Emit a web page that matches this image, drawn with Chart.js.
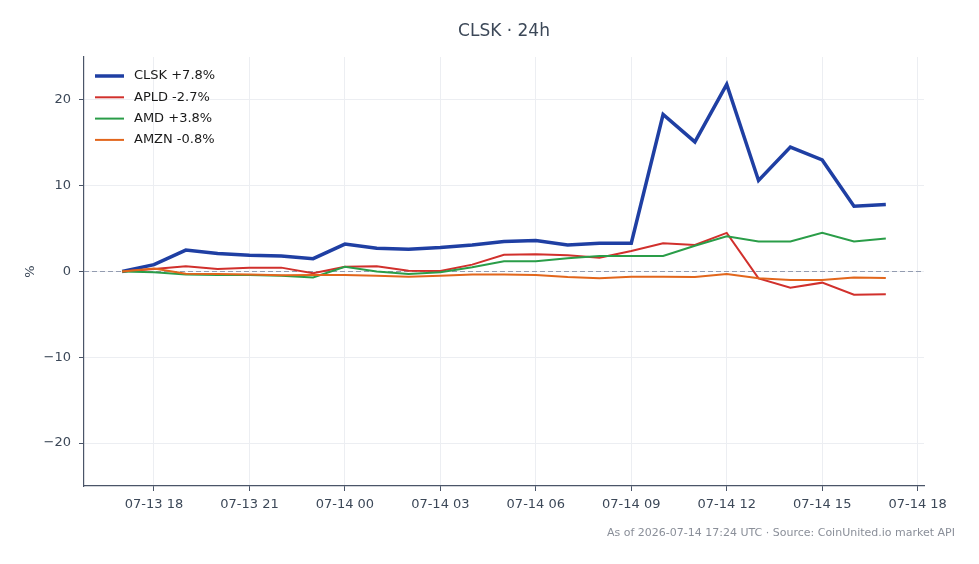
<!DOCTYPE html>
<html>
<head>
<meta charset="utf-8">
<script src="https://cdn.jsdelivr.net/npm/chart.js@4/dist/chart.umd.min.js"></script>
<style>
  html, body { margin: 0; padding: 0; background: #fff; }
  #wrap { position: relative; width: 979px; height: 564px; font-family: "DejaVu Sans", sans-serif; }
  #chart { position: absolute; left: 0; top: 0; }
  .title { position: absolute; left: 84px; width: 840px; top: 20px; text-align: center; font-size: 17px; color: #3c4858; }
  .note { position: absolute; right: 24px; top: 526px; font-size: 11px; color: #8a8f99; }
</style>
</head>
<body>
<div id="wrap">
  <canvas id="chart" width="979" height="564"></canvas>
  <div class="title">CLSK · 24h</div>
  <div class="note">As of 2026-07-14 17:24 UTC · Source: CoinUnited.io market API</div>
</div>
<script>
// hourly timestamps (UTC)
const times = [
  '07-13 17', '07-13 18', '07-13 19', '07-13 20', '07-13 21', '07-13 22', '07-13 23',
  '07-14 00', '07-14 01', '07-14 02', '07-14 03', '07-14 04', '07-14 05', '07-14 06',
  '07-14 07', '07-14 08', '07-14 09', '07-14 10', '07-14 11', '07-14 12', '07-14 13',
  '07-14 14', '07-14 15', '07-14 16', '07-14 17'
];

// % change since start
const clsk = [0, 0.8, 2.5, 2.1, 1.9, 1.8, 1.5, 3.2, 2.7, 2.6, 2.8, 3.1, 3.5, 3.6, 3.1, 3.3, 3.3, 18.3, 15.1, 21.8, 10.6, 14.5, 13.0, 7.6, 7.8];
const apld = [0, 0.3, 0.6, 0.3, 0.45, 0.45, -0.2, 0.55, 0.6, 0.1, 0.05, 0.8, 1.95, 2.0, 1.9, 1.6, 2.4, 3.3, 3.1, 4.5, -0.8, -1.9, -1.3, -2.7, -2.65];
const amd  = [0, -0.1, -0.35, -0.4, -0.4, -0.5, -0.7, 0.55, 0.0, -0.3, -0.1, 0.5, 1.2, 1.2, 1.55, 1.8, 1.8, 1.8, 3.0, 4.1, 3.5, 3.5, 4.5, 3.5, 3.85];
const amzn = [0, 0.35, -0.25, -0.3, -0.35, -0.45, -0.4, -0.4, -0.5, -0.6, -0.5, -0.35, -0.35, -0.4, -0.65, -0.8, -0.6, -0.6, -0.65, -0.3, -0.8, -1.0, -1.0, -0.7, -0.75];

const seriesLabels = ['CLSK +7.8%', 'APLD -2.7%', 'AMD +3.8%', 'AMZN -0.8%'];
const xTicks = [18, 21, 24, 27, 30, 33, 36, 39, 42];   // hours since 07-13 00:00
const yTicks = [-20, -10, 0, 10, 20];

// turn 'MM-DD HH' into hours since 07-13 00:00
function toHours(t) {
    let day = parseInt(t.slice(3, 5), 10);
    let hour = parseInt(t.slice(6, 8), 10);
    return (day - 13) * 24 + hour;
}
function hourLabel(h) {
    let day = 13 + Math.floor(h / 24);
    let hr = h % 24;
    return '07-' + day + ' ' + String(hr).padStart(2, '0');
}
function pts(values) {
    return values.map((v, i) => ({ x: toHours(times[i]), y: v }));
}

const axisColor = '#4a5568';
const gridColor = '#eceef2';
const tickFont = { family: 'DejaVu Sans', size: 13 };

// legend drawn inside the plot area, top-left
const innerLegend = {
    id: 'innerLegend',
    afterDraw(chart) {
        const ctx = chart.ctx;
        const area = chart.chartArea;
        ctx.save();
        ctx.font = '13px "DejaVu Sans"';
        ctx.textBaseline = 'middle';
        chart.data.datasets.forEach((ds, i) => {
            let y = area.top + 19 + i * 21.3;
            ctx.strokeStyle = ds.borderColor;
            ctx.lineWidth = ds.borderWidth;
            ctx.beginPath();
            ctx.moveTo(area.left + 11, y);
            ctx.lineTo(area.left + 40, y);
            ctx.stroke();
            ctx.fillStyle = '#1a1a1a';
            ctx.fillText(ds.label, area.left + 50, y);
        });
        ctx.restore();
    }
};

// dashed zero line
const zeroLine = {
    id: 'zeroLine',
    beforeDatasetsDraw(chart) {
        const ctx = chart.ctx;
        const area = chart.chartArea;
        const y = chart.scales.y.getPixelForValue(0);
        ctx.save();
        ctx.strokeStyle = '#939cb0';
        ctx.lineWidth = 1;
        ctx.setLineDash([5, 3]);
        ctx.beginPath();
        ctx.moveTo(area.left, y);
        ctx.lineTo(area.right, y);
        ctx.stroke();
        ctx.restore();
    }
};

const chart = new Chart(document.getElementById('chart').getContext('2d'), {
    type: 'line',
    data: {
        datasets: [
            { label: seriesLabels[0], data: pts(clsk), borderColor: '#1f3fa3', borderWidth: 3.5, order: 3 },
            { label: seriesLabels[1], data: pts(apld), borderColor: '#d1302c', borderWidth: 2, order: 2 },
            { label: seriesLabels[2], data: pts(amd),  borderColor: '#2a9d48', borderWidth: 2, order: 1 },
            { label: seriesLabels[3], data: pts(amzn), borderColor: '#e2661c', borderWidth: 2, order: 0 }
        ]
    },
    options: {
        responsive: false,
        animation: false,
        devicePixelRatio: 1,
        elements: { point: { radius: 0 }, line: { tension: 0 } },
        layout: { padding: { left: 0, right: 55, top: 57, bottom: 0 } },
        plugins: {
            legend: { display: false },
            tooltip: { enabled: false }
        },
        scales: {
            x: {
                type: 'linear',
                min: 15.8,
                max: 42.2,
                afterBuildTicks: scale => { scale.ticks = xTicks.map(v => ({ value: v })); },
                afterFit: scale => { scale.height = 78; },
                ticks: {
                    color: '#3c4858',
                    font: tickFont,
                    padding: 6,
                    maxRotation: 0,
                    callback: v => hourLabel(v)
                },
                grid: { color: gridColor, tickColor: axisColor, tickLength: 5 },
                border: { color: axisColor, width: 1.2 }
            },
            y: {
                min: -25,
                max: 25,
                afterBuildTicks: scale => { scale.ticks = yTicks.map(v => ({ value: v })); },
                afterFit: scale => { scale.width = 84; },
                ticks: {
                    color: '#3c4858',
                    font: tickFont,
                    padding: 8,
                    callback: v => (v < 0 ? '\u2212' + Math.abs(v) : String(v))
                },
                grid: { color: gridColor, tickColor: axisColor, tickLength: 5 },
                border: { color: axisColor, width: 1.2 },
                title: {
                    display: true,
                    text: '%',
                    color: '#3c4858',
                    font: tickFont,
                    padding: { top: 23, bottom: 0 }
                }
            }
        }
    },
    plugins: [zeroLine, innerLegend]
});
</script>
</body>
</html>
